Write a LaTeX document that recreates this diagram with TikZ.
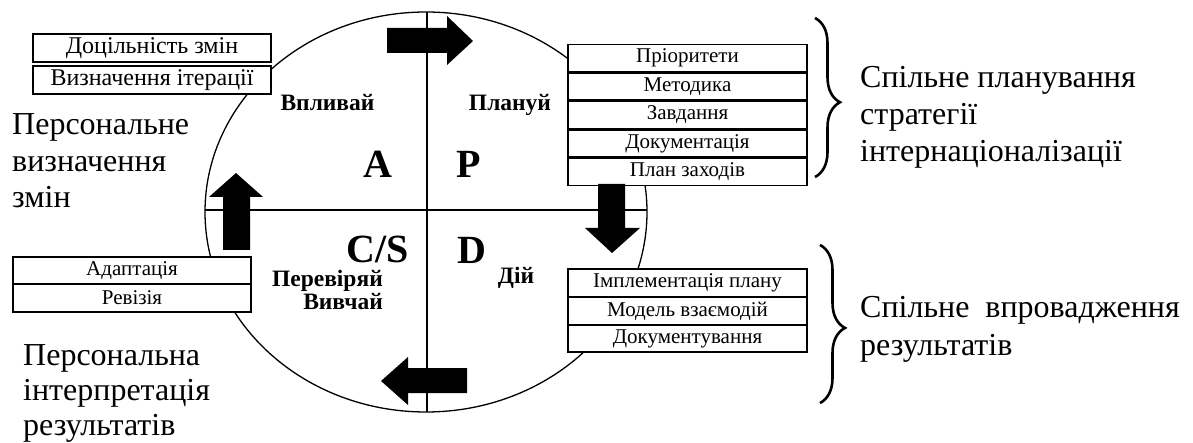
\documentclass[tikz,border=0pt]{standalone}
\usepackage{fontspec}
\setmainfont{Liberation Serif}
\usetikzlibrary{decorations.pathreplacing}
\begin{document}
\begin{tikzpicture}[x=1pt,y=-1pt,
  cell/.style={draw, line width=1.8pt, fill=white, inner sep=0pt, minimum width=239pt, minimum height=27pt, font=\fontsize{21}{24}\selectfont},
  cellbig/.style={cell, minimum width=238pt, minimum height=28pt, font=\fontsize{24}{26}\selectfont},
  lbl/.style={font=\bfseries\fontsize{23.5}{24}\selectfont, inner sep=0pt, anchor=base},
  bigletter/.style={font=\bfseries\fontsize{40}{40}\selectfont, inner sep=0pt, anchor=base},
  note/.style={font=\fontsize{32}{36.5}\selectfont, align=left, inner sep=0pt, anchor=base west},
  blockarrow/.style={fill=black, draw=none},
  bracket/.style={line width=2.6pt, decorate, decoration={brace, amplitude=25pt, aspect=#1}},
  axis/.style={line width=2pt}
]
\useasboundingbox (0,0) rectangle (1193,443);

% circle and cross
\draw[line width=1.3pt] (426,212) ellipse [x radius=221, y radius=200];
\coordinate (top) at (427,12);
\coordinate (bot) at (427,412);
\coordinate (lft) at (205,210);
\coordinate (rgt) at (647,210);
\draw[axis] (top) -- (bot);
\draw[axis] (lft) -- (rgt);

% quadrant letters and labels
\node[bigletter] (A) at (377.5,178) {A};
\node[bigletter] (P) at (468.5,178) {P};
\node[bigletter] (CS) at (377.5,263) {C/S};
\node[bigletter] (D) at (472,264) {D};
\node[lbl] (vplyvai) at (327.5,111) {Впливай};
\node[lbl] (planui) at (510,111) {Плануй};
\node[lbl] (dii) at (516,284) {Дій};
\node[lbl, anchor=base east] (pereviriai) at (383,287) {Перевіряй};
\node[lbl, anchor=base east] (vyvchai) at (383,309) {Вивчай};

% top-left boxes
\node[cellbig] (b1) at (152,48) {Доцільність змін};
\node[cellbig] (b2) at (152,80) {Визначення ітерації};

% top-right boxes
\node[cell] (p1) at (687.5,58) {Пріоритети};
\node[cell] (p2) at (687.5,86.5) {Методика};
\node[cell] (p3) at (687.5,115) {Завдання};
\node[cell] (p4) at (687.5,143.5) {Документація};
\node[cell] (p5) at (687.5,172) {План заходів};

% bottom-right boxes
\node[cell, minimum height=28pt] (d1) at (687.5,283) {Імплементація плану};
\node[cell, minimum height=28pt] (d2) at (687.5,311) {Модель взаємодій};
\node[cell, minimum height=27.5pt] (d3) at (687.5,338.5) {Документування};

% bottom-left boxes
\node[cell, minimum width=238pt, minimum height=27.5pt] (c1) at (132,270.5) {Адаптація};
\node[cell, minimum width=238pt, minimum height=27.5pt] (c2) at (132,298) {Ревізія};

% block arrows
\fill[blockarrow] (387,28) -- (447,28) -- (447,16) -- (473,41) -- (447,65) -- (447,53) -- (387,53) -- cycle;
\fill[blockarrow] (598,184) -- (625,184) -- (625,228) -- (640,228) -- (612,253) -- (585,228) -- (598,228) -- cycle;
\fill[blockarrow] (467,368) -- (408,368) -- (408,357) -- (381,381) -- (408,405) -- (408,393) -- (467,393) -- cycle;
\fill[blockarrow] (223,250) -- (223,197) -- (209,197) -- (236,173) -- (263,197) -- (250,197) -- (250,250) -- cycle;

% side texts (base anchor = baseline of the last line)
\node[note] (pers1) at (12,208) {Персональне\\визначення\\змін};
\node[note, font=\fontsize{32}{35}\selectfont] (pers2) at (23,435) {Персональна\\інтерпретація\\результатів};
\node[note, font=\fontsize{32}{37}\selectfont] (plan) at (860,162) {Спільне планування\\стратегії\\інтернаціоналізації};
\node[note, font=\fontsize{32}{37}\selectfont] (impl) at (860,355) {Спільне\ \ впровадження\\результатів};

% braces
\coordinate (br1a) at (815,18);
\coordinate (br1b) at (815,177);
\coordinate (br2a) at (820,245);
\coordinate (br2b) at (820,403);
\draw[bracket=0.53] (br1a) -- (br1b);
\draw[bracket=0.525] (br2a) -- (br2b);
\end{tikzpicture}
\end{document}
